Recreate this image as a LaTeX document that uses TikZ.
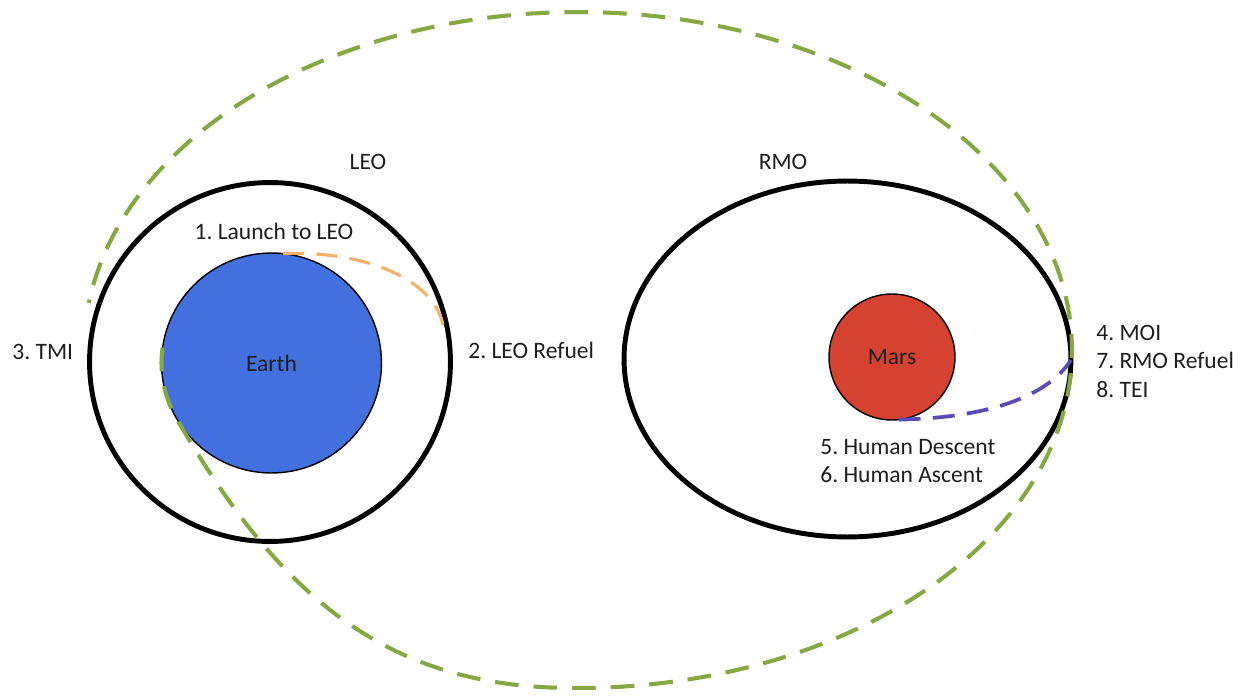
\documentclass[tikz,border=0pt]{standalone}
\usepackage{fontspec}
\setmainfont{Carlito}
\frenchspacing
\definecolor{earthblue}{RGB}{66,112,222}
\definecolor{marsred}{RGB}{214,66,48}
\definecolor{trgreen}{RGB}{134,168,64}
\definecolor{trorange}{RGB}{244,178,104}
\definecolor{trblue}{RGB}{88,76,184}
\definecolor{txt}{RGB}{30,30,30}
\begin{document}
\begin{tikzpicture}[x=0.02cm,y=-0.02cm,
  lbl/.style={text=txt,inner sep=0pt,font=\fontsize{13.4}{16.2}\selectfont},
  planet/.style={circle,draw=black,line width=0.8pt,inner sep=0pt,outer sep=0pt,text=txt,font=\fontsize{13.4}{16.2}\selectfont},
  ring/.style={draw=black,line width=2.8pt},
  greendash/.style={draw=trgreen,line width=2.3pt,dash pattern=on 13.5pt off 8.5pt},
  orangedash/.style={draw=trorange,line width=1.8pt,dash pattern=on 12pt off 7pt},
  bluedash/.style={draw=trblue,line width=2.1pt,dash pattern=on 12.5pt off 7pt}]
\useasboundingbox (0,0) rectangle (1242,696);
\fill[white] (0,0) rectangle (1242,696);
% orbits
\draw[ring] (270,362) ellipse [x radius=3.61cm, y radius=3.59cm];
\draw[ring] (847.5,359) ellipse [x radius=4.47cm, y radius=3.56cm];
% planets
\node[planet,fill=earthblue,minimum size=4.4cm] (earth) at (271.5,363) {Earth};
\node[planet,fill=marsred,minimum size=2.52cm] (mars) at (892,357) {Mars};
% transfer trajectory
\draw[greendash] plot[domain=188:150,samples=20,variable=\t] ({271.5+110*cos(\t)},{363+110*sin(\t)})
  .. controls (276,591) and (381,684) .. (560.8,687.8)
  -- plot[domain=92:-172,samples=160,variable=\t] ({578+494*cos(\t)},{350+338*sin(\t)});
% launch and descent
\coordinate (leoin) at (444,335);
\coordinate (rmoin) at (1071,360);
\draw[orangedash] (earth.84) .. controls (373,250) and (444,285) .. (leoin);
\draw[bluedash] (mars.-84) .. controls (980,418) and (1045,400) .. (rmoin);
% labels
\node[lbl] (leo) at (368,162) {LEO};
\node[lbl] (launch) at (274,231) {1. Launch to LEO};
\node[lbl,anchor=west] (tmi) at (12,352) {3. TMI};
\node[lbl,anchor=west] (leoref) at (468,350) {2. LEO Refuel};
\node[lbl] (rmo) at (783,162) {RMO};
\node[lbl,anchor=west,align=left] (moi) at (1096,361) {4. MOI\\7. RMO Refuel\\8. TEI};
\node[lbl,anchor=west,align=left] (human) at (820,461) {5. Human Descent\\6. Human Ascent};
\end{tikzpicture}
\end{document}
